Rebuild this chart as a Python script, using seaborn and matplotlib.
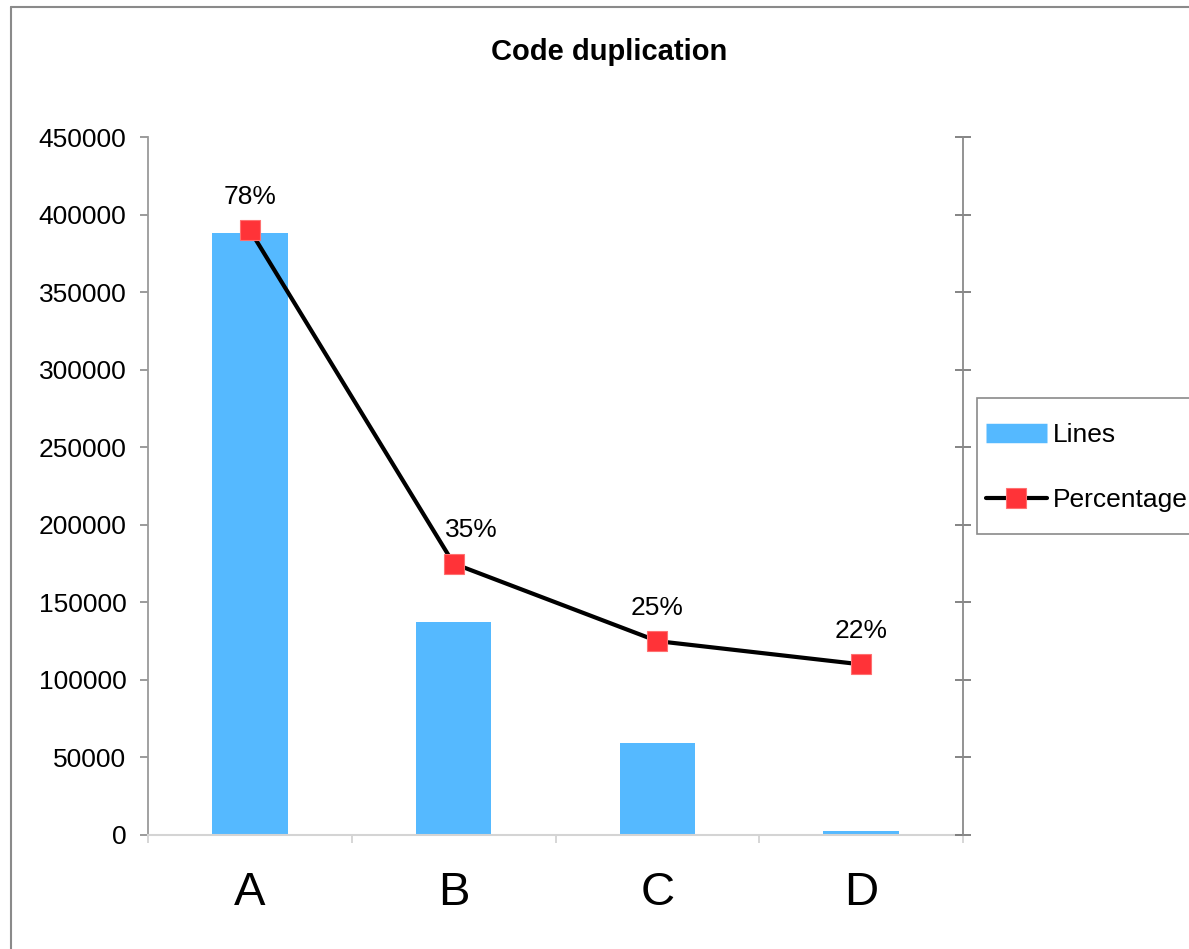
import numpy as np
import matplotlib
matplotlib.use("Agg")
import matplotlib.pyplot as plt
from matplotlib.lines import Line2D
from matplotlib.patches import Rectangle
import seaborn as sns

# Data
categories = ["A", "B", "C", "D"]
lines = [388000, 137500, 59000, 2800]
percentages = [0.78, 0.35, 0.25, 0.22]
pct_labels = ["78%", "35%", "25%", "22%"]
y_ticks = [0, 50000, 100000, 150000, 200000, 250000, 300000, 350000, 400000, 450000]

BAR_COLOR = "#55B9FF"
MARK_COLOR = "#FF3338"

sns.set_style("white")
plt.rcParams["font.family"] = ["Liberation Sans", "DejaVu Sans"]
plt.rcParams["text.color"] = "black"
plt.rcParams["xtick.labelcolor"] = "black"
plt.rcParams["ytick.labelcolor"] = "black"

W, H = 1189, 949
fig = plt.figure(figsize=(W / 100, H / 100), dpi=100)
ax = fig.add_axes([148 / W, 1 - 835 / H, (963 - 148) / W, (835 - 137) / H])

sns.barplot(x=categories, y=lines, color=BAR_COLOR, width=0.37, saturation=1,
            linewidth=0, ax=ax)
ax.set_xlim(-0.5, 3.5)
ax.set_ylim(0, 450000)
ax.set_yticks(y_ticks)
ax.set_yticklabels([str(v) for v in y_ticks], fontsize=19)
ax.tick_params(axis="y", direction="out", length=5.5, width=1.2, color="#8a8a8a", pad=10,
               left=True)

# Category labels at centers, tick marks on category boundaries
ax.set_xticks(range(len(categories)))
ax.set_xticklabels(categories, fontsize=34)
ax.tick_params(axis="x", which="major", length=0, pad=26)
ax.set_xticks(np.arange(-0.5, len(categories), 1.0), minor=True)
ax.tick_params(axis="x", which="minor", direction="out", length=6, width=1.2,
               color="#d0d0d0", bottom=True)
ax.set_xlabel("")

for side in ["top", "right"]:
    ax.spines[side].set_visible(False)
ax.spines["left"].set_color("#9a9a9a")
ax.spines["left"].set_linewidth(1.3)
ax.spines["bottom"].set_color("#d4d4d4")
ax.spines["bottom"].set_linewidth(1.5)

# Secondary axis for the percentage line
ax2 = ax.twinx()
sns.lineplot(x=np.arange(len(categories)), y=percentages, color="black", linewidth=3,
             marker="s", markersize=14, markerfacecolor=MARK_COLOR,
             markeredgecolor="#ff7070", markeredgewidth=0.8, ax=ax2, legend=False)
ax2.set_ylim(0, 0.9)
ax2.set_yticks(np.arange(0, 0.91, 0.1))
ax2.set_yticklabels([])
ax2.tick_params(axis="y", direction="inout", length=12, width=1.2, color="#707070", right=True)
for side in ["top", "left", "bottom"]:
    ax2.spines[side].set_visible(False)
ax2.spines["right"].set_color("#8a8a8a")
ax2.spines["right"].set_linewidth(1.3)
ax2.set_xlim(-0.5, 3.5)

# Value labels; the second one is nudged right to stay clear of the line
label_dx = [0, 13, 0, 0]
for i, (p, lab, dx) in enumerate(zip(percentages, pct_labels, label_dx)):
    ax2.annotate(lab, (i, p), xytext=(dx, 24), textcoords="offset points",
                 ha="center", va="center", fontsize=19)

fig.text(609 / W, 1 - 52 / H, "Code duplication", ha="center", va="center",
         fontsize=21, fontweight="bold")

# Legend: box drawn separately so the entries can sit with generous vertical room
fig.add_artist(Rectangle((977 / W, 1 - 534 / H), (W + 10 - 977) / W, (534 - 398) / H,
                         transform=fig.transFigure, facecolor="white",
                         edgecolor="#8a8a8a", linewidth=1.2, zorder=4))
handles = [
    Line2D([0], [0], color=BAR_COLOR, linewidth=14, solid_capstyle="butt"),
    Line2D([0], [0], color="black", linewidth=3, marker="s", markersize=14,
           markerfacecolor=MARK_COLOR, markeredgecolor="#ff7070", markeredgewidth=0.8),
]
leg = fig.legend(handles, ["Lines", "Percentage"], loc="center left",
                 bbox_to_anchor=(986 / W, 1 - 467.5 / H), fontsize=19,
                 frameon=False, handlelength=2.3, handleheight=0.7,
                 labelspacing=1.55, handletextpad=0.23, borderpad=0, borderaxespad=0)
leg.set_zorder(5)

# Outer chart frame
fig.add_artist(Line2D([11 / W, 1], [1 - 7 / H, 1 - 7 / H], transform=fig.transFigure,
                      color="#8a8a8a", linewidth=1.5))
fig.add_artist(Line2D([11 / W, 11 / W], [0, 1 - 7 / H], transform=fig.transFigure,
                      color="#8a8a8a", linewidth=1.5))

fig.savefig("out.png", dpi=100)
